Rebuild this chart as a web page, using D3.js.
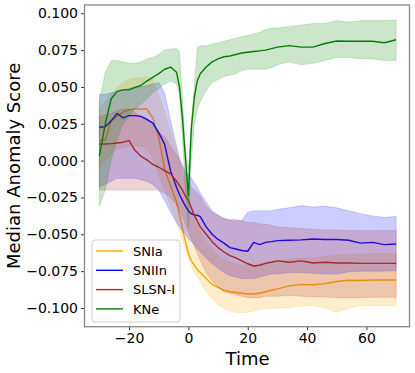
<!DOCTYPE html>
<html><head><meta charset="utf-8">
<script src="https://cdn.jsdelivr.net/npm/d3@7"></script>
<style>body{margin:0;background:#fff}svg{display:block;font-family:"DejaVu Sans",sans-serif}</style>
</head><body><svg id="c" width="415" height="373"></svg>
<script>
const time = [-30,-28,-26,-24,-22,-20,-18,-16,-14,-12,-10,-8,-6,-4,-3,-2,-1,0,1,2,3,4,6,8,10,12,14,16,18,20,22,24,26,28,30,34,38,42,46,50,54,58,62,66,70];
const classNames = ["SNIa","SNIIn","SLSN-I","KNe"];
const colors = ["#FFA500","#0000FF","#A52A2A","#008000"];
const snia_med = [0.0136,0.014,0.027,0.030,0.033,0.0345,0.035,0.035,0.035,0.029,0.016,-0.006,-0.017,-0.028,-0.037,-0.046,-0.055,-0.063,-0.068,-0.071,-0.074,-0.076,-0.080,-0.084,-0.086,-0.088,-0.089,-0.0895,-0.090,-0.0905,-0.0905,-0.090,-0.089,-0.088,-0.087,-0.085,-0.084,-0.0842,-0.0835,-0.082,-0.0812,-0.0814,-0.081,-0.081,-0.081];
const snia_lo = [-0.005,0.0,0.005,0.008,0.009,0.01,0.01,0.01,0.008,0.003,-0.01,-0.02,-0.031,-0.042,-0.048,-0.054,-0.060,-0.066,-0.071,-0.076,-0.079,-0.082,-0.089,-0.094,-0.098,-0.1,-0.102,-0.103,-0.103,-0.103,-0.102,-0.101,-0.1005,-0.1005,-0.100,-0.1,-0.0985,-0.0985,-0.1,-0.103,-0.1,-0.0985,-0.0985,-0.0985,-0.0985];
const snia_hi = [0.035,0.04,0.045,0.05,0.053,0.055,0.056,0.056,0.057,0.055,0.045,0.033,0.02,0.007,0.0,-0.008,-0.016,-0.025,-0.032,-0.038,-0.043,-0.048,-0.055,-0.06,-0.064,-0.067,-0.069,-0.07,-0.071,-0.071,-0.071,-0.070,-0.069,-0.068,-0.068,-0.067,-0.066,-0.066,-0.065,-0.064,-0.0635,-0.0635,-0.063,-0.063,-0.063];
const sniin_med = [0.0226,0.023,0.027,0.032,0.029,0.0305,0.0305,0.030,0.028,0.0255,0.019,0.011,-0.007,-0.018,-0.023,-0.027,-0.031,-0.034,-0.036,-0.037,-0.037,-0.038,-0.045,-0.050,-0.0535,-0.056,-0.059,-0.060,-0.061,-0.0615,-0.0555,-0.057,-0.0555,-0.055,-0.0543,-0.054,-0.0538,-0.0532,-0.0535,-0.0535,-0.054,-0.056,-0.0555,-0.057,-0.0566];
const sniin_lo = [-0.018,-0.016,-0.014,-0.012,-0.012,-0.012,-0.012,-0.013,-0.014,-0.016,-0.02,-0.027,-0.035,-0.042,-0.045,-0.048,-0.05,-0.053,-0.055,-0.057,-0.06,-0.062,-0.066,-0.07,-0.073,-0.076,-0.078,-0.079,-0.08,-0.08,-0.08,-0.079,-0.078,-0.077,-0.077,-0.076,-0.076,-0.0765,-0.077,-0.077,-0.0755,-0.075,-0.075,-0.075,-0.0747];
const sniin_hi = [0.045,0.045,0.046,0.047,0.048,0.049,0.05,0.05,0.051,0.052,0.053,0.046,0.027,0.01,0.002,-0.003,-0.007,-0.01,-0.012,-0.015,-0.018,-0.022,-0.028,-0.034,-0.037,-0.0396,-0.0405,-0.041,-0.0405,-0.035,-0.034,-0.034,-0.034,-0.034,-0.033,-0.032,-0.0305,-0.0315,-0.031,-0.032,-0.034,-0.036,-0.0375,-0.0385,-0.038];
const slsn_med = [0.0113,0.0113,0.0115,0.012,0.0125,0.0136,0.007,0.003,0.0005,-0.0025,-0.0045,-0.0068,-0.009,-0.014,-0.017,-0.020,-0.024,-0.027,-0.032,-0.037,-0.041,-0.045,-0.050,-0.055,-0.059,-0.062,-0.0645,-0.066,-0.068,-0.070,-0.0715,-0.071,-0.0697,-0.069,-0.068,-0.069,-0.068,-0.0695,-0.069,-0.0695,-0.0695,-0.0697,-0.0697,-0.0697,-0.0697];
const slsn_lo = [-0.02,-0.02,-0.02,-0.02,-0.02,-0.02,-0.02,-0.02,-0.02,-0.02,-0.02,-0.022,-0.025,-0.03,-0.034,-0.038,-0.043,-0.048,-0.053,-0.058,-0.063,-0.068,-0.076,-0.082,-0.086,-0.089,-0.09,-0.091,-0.092,-0.093,-0.093,-0.093,-0.092,-0.092,-0.092,-0.0915,-0.092,-0.0925,-0.0925,-0.093,-0.093,-0.093,-0.0928,-0.0928,-0.0928];
const slsn_hi = [0.03,0.031,0.032,0.034,0.035,0.035,0.033,0.03,0.027,0.024,0.02,0.016,0.01,0.004,0.0,-0.004,-0.009,-0.015,-0.018,-0.02,-0.022,-0.024,-0.031,-0.035,-0.037,-0.039,-0.04,-0.04,-0.041,-0.042,-0.042,-0.043,-0.043,-0.044,-0.045,-0.0455,-0.046,-0.0465,-0.047,-0.047,-0.0475,-0.0475,-0.0475,-0.0475,-0.0475];
const kne_med = [0.003,0.025,0.042,0.047,0.048,0.048,0.0497,0.051,0.054,0.0565,0.059,0.062,0.0635,0.060,0.050,0.029,0.002,-0.024,0.022,0.043,0.054,0.059,0.0635,0.067,0.069,0.0705,0.071,0.072,0.073,0.0735,0.074,0.0745,0.075,0.076,0.077,0.078,0.077,0.077,0.0795,0.0812,0.081,0.081,0.081,0.080,0.082];
const kne_lo = [-0.031,-0.02,0.0,0.015,0.025,0.03,0.035,0.038,0.042,0.046,0.049,0.052,0.054,0.052,0.045,0.015,-0.02,-0.045,0.0,0.025,0.035,0.040,0.048,0.053,0.055,0.057,0.058,0.059,0.061,0.062,0.062,0.062,0.062,0.063,0.065,0.067,0.065,0.066,0.068,0.070,0.070,0.069,0.069,0.068,0.068];
const kne_hi = [0.040,0.060,0.068,0.068,0.067,0.066,0.066,0.067,0.069,0.070,0.072,0.075,0.0758,0.076,0.074,0.042,0.008,-0.006,0.026,0.050,0.077,0.078,0.078,0.079,0.080,0.081,0.082,0.083,0.084,0.085,0.086,0.087,0.089,0.090,0.090,0.091,0.092,0.093,0.093,0.095,0.094,0.095,0.095,0.095,0.0955];
const xTicks = [-20,0,20,40,60];
const yTicks = [-0.100,-0.075,-0.050,-0.025,0.000,0.025,0.050,0.075,0.100];

const meds = [snia_med, sniin_med, slsn_med, kne_med];
const los = [snia_lo, sniin_lo, slsn_lo, kne_lo];
const his = [snia_hi, sniin_hi, slsn_hi, kne_hi];

const L = 84.5, R = 409.5, T = 5, B = 326.7;
const svg = d3.select("#c");
const x = d3.scaleLinear().domain([-35, 74.5]).range([L, R]);
const y = d3.scaleLinear().domain([-0.1127, 0.1056]).range([B, T]);
const fmtMinus = s => s.replace("-", "\u2212");

const g = svg.append("g");
const area = d3.area().x((d,i)=>x(time[i])).y0(d=>y(d[0])).y1(d=>y(d[1]));
const line = d3.line().x((d,i)=>x(time[i])).y(d=>y(d));

classNames.forEach((name, k) => {
  const band = time.map((t,i)=>[los[k][i], his[k][i]]);
  g.append("path").datum(band).attr("d", area)
    .attr("fill", colors[k]).attr("fill-opacity", 0.2)
    .attr("stroke", colors[k]).attr("stroke-opacity", 0.2).attr("stroke-width", 0.8);
  g.append("path").datum(meds[k]).attr("d", line)
    .attr("fill", "none").attr("stroke", colors[k]).attr("stroke-width", 1.4)
    .attr("stroke-linejoin", "round");
});

const xAxis = d3.axisBottom(x).tickValues(xTicks).tickSize(3.5).tickPadding(3)
  .tickFormat(d => fmtMinus(d3.format("d")(d)));
const yAxis = d3.axisLeft(y).tickValues(yTicks).tickSize(3.5).tickPadding(3)
  .tickFormat(d => fmtMinus(d3.format(".3f")(d)));
const gx = svg.append("g").attr("transform", `translate(0,${B})`).call(xAxis);
const gy = svg.append("g").attr("transform", `translate(${L},0)`).call(yAxis);
[gx, gy].forEach(a => {
  a.select(".domain").remove();
  a.selectAll("line").attr("stroke", "#333").attr("stroke-width", 1);
  a.selectAll("text").attr("font-size", 14).attr("fill", "#000").attr("font-family", "DejaVu Sans");
});
svg.append("rect").attr("x", L).attr("y", T).attr("width", R - L).attr("height", B - T)
  .attr("fill", "none").attr("stroke", "#888").attr("stroke-width", 1.3);

svg.append("text").attr("x", (L+R)/2 + 0.5).attr("y", 365).attr("text-anchor", "middle")
  .attr("font-size", 18).text("Time");
svg.append("text").attr("transform", `translate(20,${(T+B)/2}) rotate(-90)`)
  .attr("text-anchor", "middle").attr("font-size", 18).text("Median Anomaly Score");

const lg = svg.append("g");
lg.append("rect").attr("x", 92).attr("y", 240).attr("width", 88).attr("height", 82)
  .attr("rx", 3).attr("fill", "#fff").attr("fill-opacity", 0.8).attr("stroke", "#ccc").attr("stroke-width", 1);
classNames.forEach((name, k) => {
  const yy = 251 + k * 19.3;
  lg.append("line").attr("x1", 96).attr("x2", 123).attr("y1", yy).attr("y2", yy)
    .attr("stroke", colors[k]).attr("stroke-width", 1.4);
  lg.append("text").attr("x", 133).attr("y", yy).attr("dy", "0.36em")
    .attr("font-size", 13).text(name);
});
</script></body></html>
